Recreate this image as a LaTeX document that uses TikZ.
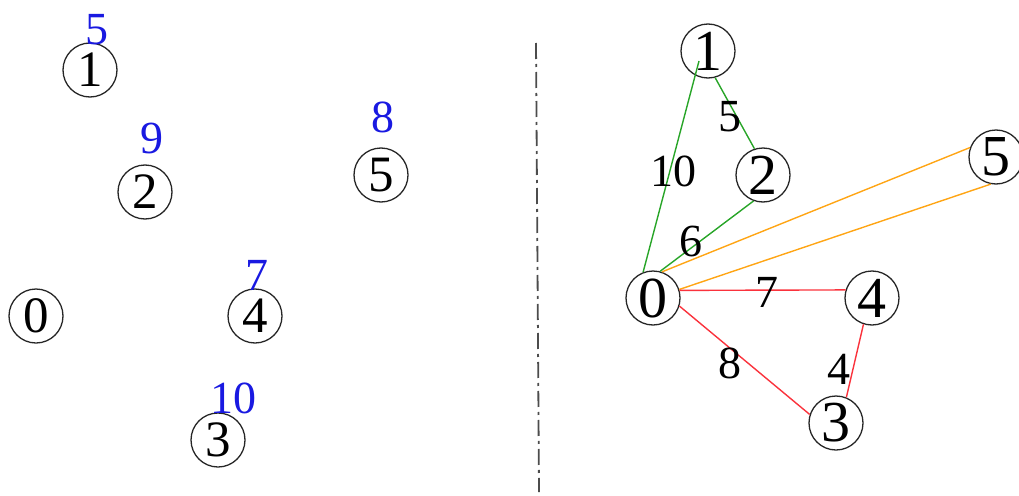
\documentclass[tikz,border=0pt]{standalone}
\usepackage{fontspec}
\setmainfont{Liberation Serif}
\definecolor{egreen}{RGB}{40,165,40}
\definecolor{eorange}{RGB}{255,165,20}
\definecolor{ered}{RGB}{250,50,60}
\definecolor{lblue}{RGB}{25,25,225}
\begin{document}
\begin{tikzpicture}[x=1pt,y=-1pt,
  vtx/.style={circle,draw=black!85,line width=1.3pt,minimum size=54pt,inner sep=0pt},
  lvtx/.style={vtx,font=\fontsize{51}{51}\selectfont},
  rvtx/.style={vtx,font=\fontsize{58}{58}\selectfont},
  wlab/.style={inner sep=0pt,font=\fontsize{46}{46}\selectfont},
  blab/.style={wlab,text=lblue},
  gedge/.style={draw=egreen,line width=1.4pt},
  oedge/.style={draw=eorange,line width=1.4pt},
  redge/.style={draw=ered,line width=1.4pt},
  sep/.style={draw=black!70,line width=1.8pt,dash pattern=on 16pt off 5pt on 3pt off 5pt}]
\useasboundingbox (0,0) rectangle (1019,495);
% left side
\node[lvtx] (l1) at (90,70) {1};
\node[lvtx] (l2) at (145,192) {2};
\node[lvtx] (l5) at (381,175) {5};
\node[lvtx] (l0) at (36,316) {0};
\node[lvtx] (l4) at (255,316) {4};
\node[lvtx] (l3) at (218,440) {3};
\node[blab] (b1) at (97,30) {5};
\node[blab] (b2) at (152,138) {9};
\node[blab] (b5) at (383,117) {8};
\node[blab] (b4) at (257,275) {7};
\node[blab] (b3) at (233,398) {10};
% separator
\coordinate (sa) at (536,43);
\coordinate (sb) at (539,492);
\draw[sep] (sa) -- (sb);
% right side
\node[rvtx] (r1) at (708,51) {1};
\node[rvtx] (r2) at (763,175) {2};
\node[rvtx] (r5) at (996,157) {5};
\node[rvtx] (r0) at (653,298) {0};
\node[rvtx] (r4) at (872,298) {4};
\node[rvtx] (r3) at (836,423) {3};
\coordinate (r1in) at ([shift={(-9,10)}]r1.center);
\draw[gedge] (r0.111) -- (r1in);
\draw[gedge] (r1.-75) -- (r2.108);
\draw[gedge] (r2.-110) -- (r0.75);
\draw[oedge] (r0.71) -- (r5.160);
\draw[oedge] (r0.18) -- (r5.-101);
\draw[redge] (r0.16) -- (r4.163);
\draw[redge] (r0.-17) -- (r3.162);
\draw[redge] (r4.-108) -- (r3.68);
\node[wlab] (w10) at (673,171) {10};
\node[wlab] (w5) at (730,117) {5};
\node[wlab] (w6) at (691,241) {6};
\node[wlab] (w7) at (767,292) {7};
\node[wlab] (w8) at (730,363) {8};
\node[wlab] (w4) at (839,369) {4};
\end{tikzpicture}
\end{document}
